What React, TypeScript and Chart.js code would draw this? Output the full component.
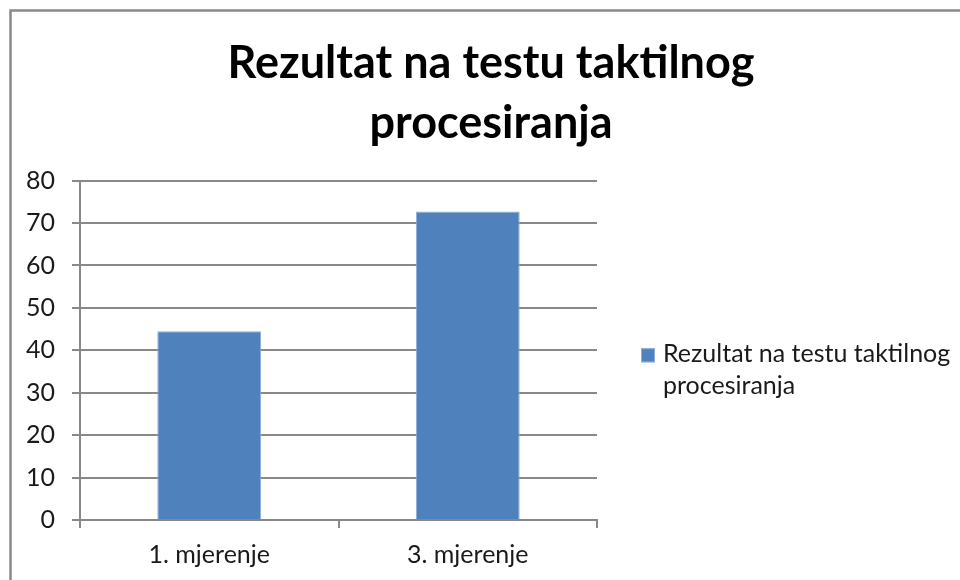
import React, { useEffect, useRef } from "react";
import { Chart, registerables } from "chart.js";

Chart.register(...registerables);

const titleLines = ["Rezultat na testu taktilnog", "procesiranja"];
const categories = ["1. mjerenje", "3. mjerenje"];
const seriesName = "Rezultat na testu taktilnog procesiranja";
const legendLines = ["Rezultat na testu taktilnog", "procesiranja"];
const values = [44.5, 72.7];
const yMin = 0;
const yMax = 80;
const yStep = 10;

const FONT = "Lato, 'Open Sans', sans-serif";
const GRID = "#888888";
const BAR = "#4F81BD";
const BAR_EDGE = "#8FAEDA";
const TEXT = "#1a1a1a";
const TICK_SIZE = 25;

const borderPlugin = {
  id: "frameBorder",
  beforeDraw(chart: any) {
    const ctx = chart.ctx;
    ctx.save();
    ctx.fillStyle = "#ffffff";
    ctx.fillRect(0, 0, chart.width, chart.height);
    ctx.strokeStyle = "#898989";
    ctx.lineWidth = 2.5;
    ctx.strokeRect(10.5, 10.5, 2000, 2000);
    ctx.restore();
  },
};

const legendPlugin = {
  id: "sideLegend",
  afterDraw(chart: any) {
    const ctx = chart.ctx;
    const area = chart.chartArea;
    const x = area.right + 44;
    const base = (area.top + area.bottom) / 2 + 12;
    const lineGap = 32;
    const box = 14;
    ctx.save();
    ctx.fillStyle = BAR;
    ctx.fillRect(x, base - 14, box, box);
    ctx.strokeStyle = BAR_EDGE;
    ctx.lineWidth = 1;
    ctx.strokeRect(x + 0.5, base - 13.5, box - 1, box - 1);
    ctx.fillStyle = TEXT;
    ctx.font = `${TICK_SIZE}px ${FONT}`;
    ctx.textBaseline = "alphabetic";
    ctx.textAlign = "left";
    legendLines.forEach((line, i) => {
      ctx.fillText(line, x + 22, base + i * lineGap);
    });
    ctx.restore();
  },
};

export default function App() {
  const ref = useRef<HTMLCanvasElement | null>(null);
  useEffect(() => {
    if (!ref.current) return;
    const chart = new Chart(ref.current, {
      type: "bar",
      data: {
        labels: categories,
        datasets: [
          {
            label: seriesName,
            data: values,
            backgroundColor: BAR,
            borderColor: BAR_EDGE,
            borderWidth: 1,
            barPercentage: 0.402,
            categoryPercentage: 1,
            yAxisID: "y",
          },
        ],
      },
      options: {
        responsive: false,
        animation: false,
        layout: { padding: { left: 22, right: 0, top: 0, bottom: 0 } },
        plugins: {
          title: {
            display: true,
            text: titleLines,
            color: "#000000",
            font: { family: FONT, size: 45, weight: "bold", lineHeight: 1.34 },
            padding: { top: 33, bottom: 27 },
          },
          legend: { display: false },
          tooltip: { enabled: false },
        },
        scales: {
          x: {
            offset: true,
            border: { color: GRID, width: 2 },
            grid: {
              offset: true,
              drawOnChartArea: false,
              drawTicks: true,
              tickLength: 8,
              color: GRID,
              lineWidth: 2,
            },
            ticks: {
              color: TEXT,
              font: { family: FONT, size: TICK_SIZE },
              padding: 12,
            },
            afterFit(scale: any) {
              scale.height = 60;
            },
          },
          y: {
            min: yMin,
            max: yMax,
            border: { color: GRID, width: 2 },
            grid: {
              color: GRID,
              lineWidth: 2,
              drawTicks: true,
              tickLength: 8,
            },
            ticks: {
              stepSize: yStep,
              color: TEXT,
              font: { family: FONT, size: TICK_SIZE },
              padding: 17,
            },
            afterFit(scale: any) {
              scale.width = 58;
            },
          },
          legendSpace: {
            type: "linear",
            position: "right",
            display: true,
            grid: { display: false, drawTicks: false },
            border: { display: false },
            ticks: { display: false },
            afterFit(scale: any) {
              scale.width = 363;
            },
          },
        },
      },
      plugins: [borderPlugin, legendPlugin],
    });
    return () => chart.destroy();
  }, []);
  return (
    <div style={{ position: "absolute", left: 0, top: 0, width: 960, height: 580 }}>
      <canvas ref={ref} width={960} height={580} />
    </div>
  );
}
